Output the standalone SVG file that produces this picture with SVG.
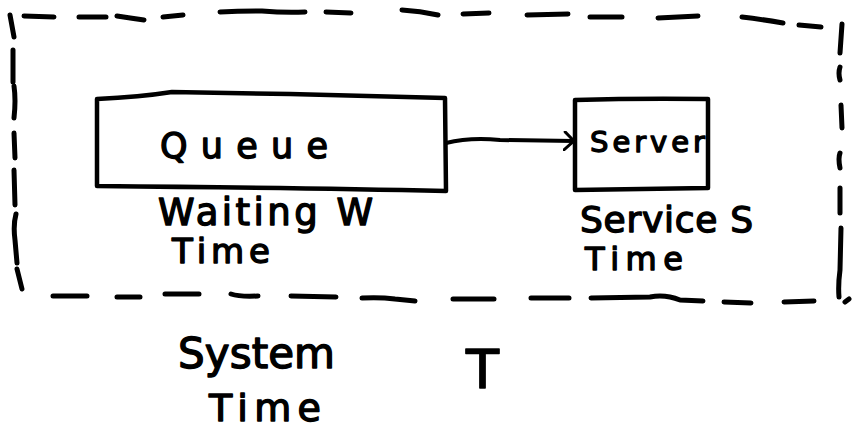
<svg xmlns="http://www.w3.org/2000/svg" width="852" height="432" viewBox="0 0 852 432">
<defs>
<style>
.dash{fill:none;stroke:#000;stroke-width:5;stroke-linecap:round;stroke-linejoin:round}
.box{fill:#fff;stroke:#000;stroke-width:4.5;stroke-linejoin:round}
.conn{fill:none;stroke:#000;stroke-width:4;stroke-linecap:round;stroke-linejoin:round}
text{font-family:"DejaVu Sans","Liberation Sans",sans-serif;fill:#000;stroke:#000;stroke-width:1.4;stroke-linejoin:round}
</style>
<marker id="arr" viewBox="0 0 12 20" refX="11" refY="10" markerWidth="12" markerHeight="20" markerUnits="userSpaceOnUse" orient="auto">
<path d="M2,1 L11,10 L1,19" fill="none" stroke="#000" stroke-width="3" stroke-linecap="round"/>
</marker>
</defs>
<rect width="852" height="432" fill="#fff"/>
<g id="system-boundary">
<path class="dash" d="M24,16 L54,17 M79,17 L106,17 M117,16 Q130,18 144,20 M163,17 L183,15 M220,12 Q240,11 262,11 Q285,13 305,12 M326,12 L351,13 M402,10 Q420,11 438,15 M463,14 L489,13 M527,15 L568,14 M590,17 L622,17 M658,18 L698,16 M742,17 Q760,19 783,23 M799,25 L821,27"/>
<path class="dash" d="M10,15 L14,37 M13,50 L13,82 M14,86 Q16,100 14,118 M14,133 L15,158 M14,170 L15,205 M16,214 Q13,225 15,240 L17,263 M17,269 L22,289"/>
<path class="dash" d="M842,24 L840,53 M840,67 Q838,73 840,80 M841,105 L842,128 M840,153 Q838,158 840,168 M840,188 L840,213 M841,228 L840,270 Q838,285 839,297 M845,302 L849,299"/>
<path class="dash" d="M53,296 L87,296 M117,297 L140,297 M165,294 L199,294 M231,294 Q240,297 258,296 M291,296 L336,297 M362,298 Q380,297 395,299 L415,301 M453,299 L494,299 M531,298 L569,298 M591,298 L650,297 Q665,294 680,300 L703,301 M724,302 L751,303 M784,302 L814,301"/>
</g>
<g id="queue">
<path class="box" d="M97,99 Q140,97 172,92 Q230,93 290,94 Q380,96 445,98 L446,191 Q300,188 97,186 Z"/>
<text x="160" y="158" font-size="35" textLength="168" lengthAdjust="spacing">Queue</text>
</g>
<g id="server">
<path class="box" d="M575,100 Q640,98 708,99 L708,188 Q640,189 575,190 Z"/>
<text x="590" y="152" font-size="29" textLength="115" lengthAdjust="spacing">Server</text>
</g>
<g id="connectors">
<path class="conn" d="M446,143 Q470,137 500,140 L574,141" marker-end="url(#arr)"/>
</g>
<g id="labels">
<text x="158" y="225" font-size="37" textLength="215" lengthAdjust="spacing">Waiting W</text>
<text x="172" y="263" font-size="34" textLength="98" lengthAdjust="spacing">Time</text>
<text x="580" y="232" font-size="36" textLength="173" lengthAdjust="spacing">Service S</text>
<text x="585" y="270" font-size="32" textLength="98" lengthAdjust="spacing">Time</text>
<text x="178" y="368" font-size="42" textLength="157" lengthAdjust="spacing">System</text>
<text x="466" y="388" font-size="54">T</text>
<text x="209" y="421" font-size="38" textLength="112" lengthAdjust="spacing">Time</text>
</g>
</svg>
